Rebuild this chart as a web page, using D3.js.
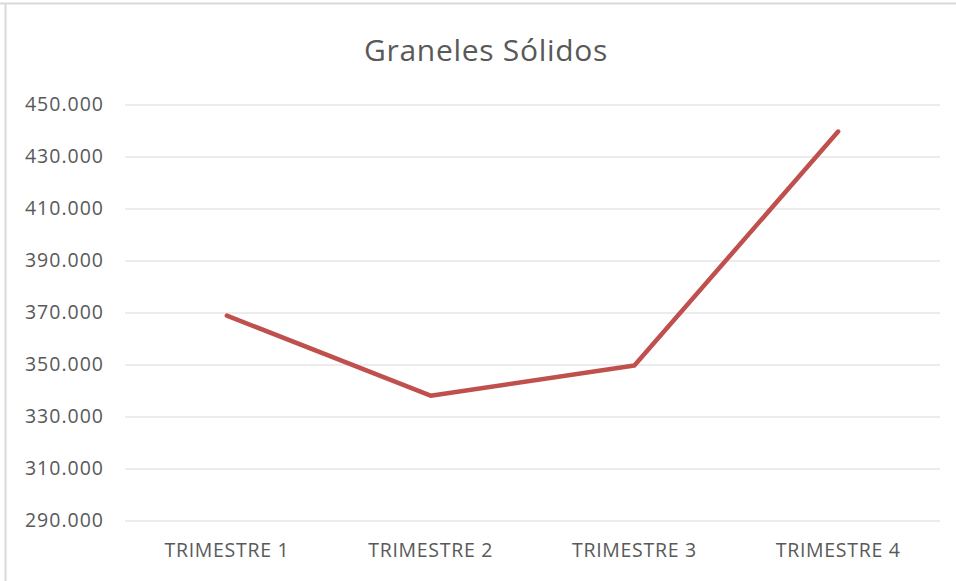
<!DOCTYPE html>
<html lang="es">
<head>
  <meta charset="UTF-8">
  <title>Graneles Sólidos</title>
  <style>
    body { margin: 0; background: #fff; }
    text { font-family: "Open Sans", sans-serif; fill: #595959; }
  </style>
</head>
<body>
  <script src="https://d3js.org/d3.v7.min.js"></script>
  <div id="chart"></div>
  <script>
    // data
    var quarters = ["TRIMESTRE 1", "TRIMESTRE 2", "TRIMESTRE 3", "TRIMESTRE 4"];
    var tonnes = [368800, 338000, 349600, 439600];
    var yTicks = [290000, 310000, 330000, 350000, 370000, 390000, 410000, 430000, 450000];

    var W = 956, H = 581;
    var margin = { top: 104.5, right: 16, bottom: 60, left: 125 };
    var width = W - margin.left - margin.right,
      height = 520.5 - margin.top;

    var svg = d3.select("#chart").append("svg")
      .attr("width", W)
      .attr("height", H);

    // frame of the chart area
    svg.append("line").attr("x1", 0).attr("x2", W).attr("y1", 3.5).attr("y2", 3.5)
      .attr("stroke", "#d9d9d9").attr("stroke-width", 2);
    svg.append("line").attr("x1", 5.5).attr("x2", 5.5).attr("y1", 3).attr("y2", H)
      .attr("stroke", "#d9d9d9").attr("stroke-width", 2);

    svg.append("text")
      .attr("x", 486)
      .attr("y", 61)
      .attr("text-anchor", "middle")
      .style("font-size", "30px")
      .style("letter-spacing", "0.7px")
      .text("Graneles Sólidos");

    var g = svg.append("g")
      .attr("transform", "translate(" + margin.left + "," + margin.top + ")");

    var x = d3.scaleBand().domain(quarters).range([0, width]);
    var y = d3.scaleLinear().domain([290000, 450000]).range([height, 0]);

    var fmt = function (d) { return d3.format(",")(d).replace(/,/g, "."); };

    // gridlines + y labels
    var yAxis = g.append("g")
      .call(d3.axisLeft(y).tickValues(yTicks).tickSize(-width).tickPadding(21).tickFormat(fmt));
    yAxis.select(".domain").remove();
    yAxis.selectAll(".tick line").attr("stroke", "#d9d9d9");
    yAxis.selectAll(".tick text")
      .style("font-size", "19.5px")
      .style("letter-spacing", "1px")
      .attr("fill", "#595959");

    // x labels
    var xAxis = g.append("g")
      .attr("transform", "translate(0," + height + ")")
      .call(d3.axisBottom(x).tickSize(0).tickPadding(23));
    xAxis.select(".domain").remove();
    xAxis.selectAll(".tick text")
      .style("font-size", "19.5px")
      .style("letter-spacing", "0.7px")
      .attr("fill", "#595959");

    var line = d3.line()
      .x(function (d, i) { return x(quarters[i]) + x.bandwidth() / 2; })
      .y(function (d) { return y(d); });

    g.append("path")
      .datum(tonnes)
      .attr("d", line)
      .attr("fill", "none")
      .attr("stroke", "#c0504d")
      .attr("stroke-width", 4.5)
      .attr("stroke-linecap", "round")
      .attr("stroke-linejoin", "round");
  </script>
</body>
</html>
